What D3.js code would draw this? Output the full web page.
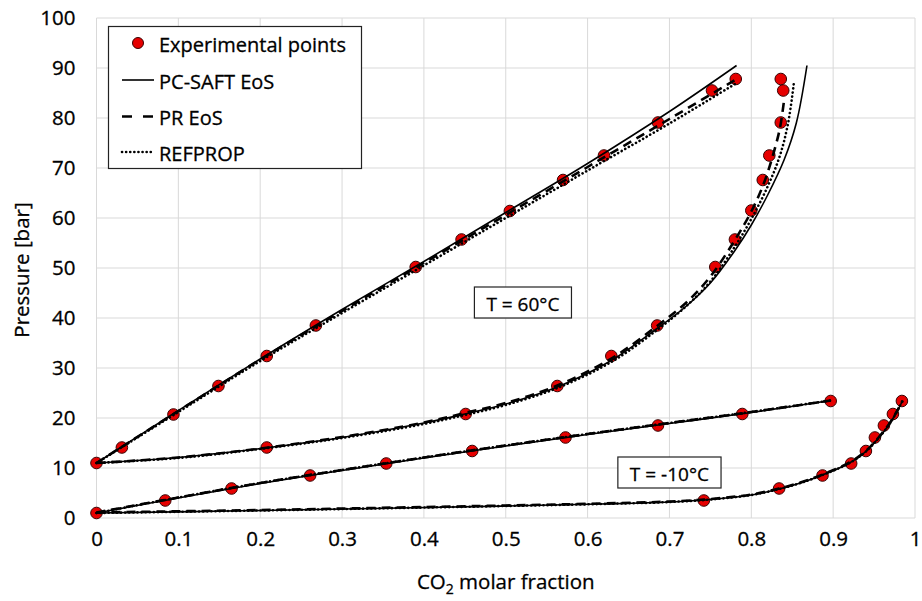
<!DOCTYPE html>
<html>
<head>
<meta charset="utf-8">
<script src="https://cdn.jsdelivr.net/npm/d3@7"></script>
<style>
  html, body { margin: 0; padding: 0; background: #fff; }
  svg { display: block; font-family: "Open Sans", "Noto Sans", sans-serif; }
  svg text { stroke: #000; stroke-width: 0.3px; }
</style>
</head>
<body>
<svg id="chart" width="922" height="601"></svg>
<script>
// ---------- DATA ----------
const xTicks = [0, 0.1, 0.2, 0.3, 0.4, 0.5, 0.6, 0.7, 0.8, 0.9, 1];
const xTickLabels = ["0", "0.1", "0.2", "0.3", "0.4", "0.5", "0.6", "0.7", "0.8", "0.9", "1"];
const yTicks = [0, 10, 20, 30, 40, 50, 60, 70, 80, 90, 100];
const yTickLabels = ["0", "10", "20", "30", "40", "50", "60", "70", "80", "90", "100"];

// Experimental points, T = 60 °C  [x CO2, P bar]
const exp60Bubble = [[0, 11.0], [0.031, 14.1], [0.094, 20.7], [0.149, 26.4], [0.208, 32.4], [0.268, 38.5],
  [0.390, 50.2], [0.446, 55.7], [0.505, 61.4], [0.570, 67.6], [0.620, 72.5], [0.686, 79.1], [0.752, 85.5], [0.781, 87.8]];
const exp60Dew = [[0.208, 14.1], [0.451, 20.8], [0.563, 26.4], [0.629, 32.4], [0.685, 38.5], [0.756, 50.2],
  [0.780, 55.7], [0.800, 61.5], [0.814, 67.6], [0.822, 72.5], [0.836, 79.1], [0.839, 85.5], [0.836, 87.8]];
// Experimental points, T = -10 °C
const expM10Bubble = [[0, 1.0], [0.084, 3.5], [0.165, 5.9], [0.261, 8.5], [0.354, 10.9], [0.459, 13.4],
  [0.573, 16.1], [0.686, 18.5], [0.789, 20.8], [0.897, 23.4]];
const expM10Dew = [[0.742, 3.5], [0.834, 5.9], [0.887, 8.5], [0.922, 10.9], [0.940, 13.4], [0.951, 16.1],
  [0.962, 18.5], [0.973, 20.8], [0.984, 23.4]];

// PC-SAFT EoS (solid)
const pcsaft60Bubble = [[0, 11], [0.1, 21.5], [0.2, 31.8], [0.3, 41.7], [0.4, 51.3], [0.5, 61.1], [0.6, 70.9], [0.7, 81.3], [0.782, 90.5]];
const pcsaft60Dew = [[0, 11], [0.1, 12.1], [0.2, 13.9], [0.3, 16.1], [0.4, 19.0], [0.45, 20.8], [0.5, 22.8], [0.563, 26.2],
  [0.63, 31.6], [0.684, 37.8], [0.72, 42.3], [0.75, 47.0], [0.78, 53.5], [0.80, 58.6], [0.82, 64.6], [0.84, 71.6], [0.855, 79], [0.868, 90.5]];
const pcsaftM10Bubble = [[0, 1.0], [0.1, 4.0], [0.2, 6.9], [0.3, 9.5], [0.4, 12.0], [0.5, 14.4], [0.6, 16.7], [0.7, 18.9], [0.8, 21.1], [0.897, 23.5]];
const pcsaftM10Dew = [[0, 1.0], [0.2, 1.5], [0.37, 2.0], [0.5, 2.4], [0.615, 2.8], [0.7, 3.2], [0.75, 3.7], [0.8, 4.6], [0.834, 5.8],
  [0.86, 7.0], [0.887, 8.6], [0.92, 11.0], [0.94, 13.3], [0.955, 15.9], [0.968, 18.6], [0.977, 21.0], [0.985, 23.5]];

// PR EoS (dashed)
const pr60Bubble = [[0, 11], [0.1, 21.4], [0.2, 31.7], [0.3, 41.4], [0.4, 51.0], [0.5, 60.6], [0.6, 70.2], [0.7, 79.8], [0.78, 87.6]];
const pr60Dew = [[0, 11], [0.1, 12.1], [0.2, 13.9], [0.3, 16.2], [0.4, 19.1], [0.45, 21.0], [0.5, 23.0], [0.563, 26.5],
  [0.63, 32.0], [0.684, 38.3], [0.72, 43.0], [0.75, 48.3], [0.78, 55.6], [0.80, 61.3], [0.815, 66.8], [0.826, 72.3], [0.835, 78.0], [0.84, 83.5]];
const prM10Bubble = [[0, 1.1], [0.1, 4.1], [0.2, 7.0], [0.3, 9.6], [0.4, 12.1], [0.5, 14.5], [0.6, 16.8], [0.7, 19.0], [0.8, 21.2], [0.897, 23.5]];
const prM10Dew = [[0, 1.1], [0.2, 1.6], [0.37, 2.1], [0.5, 2.5], [0.615, 2.9], [0.7, 3.3], [0.75, 3.8], [0.8, 4.7], [0.834, 5.9],
  [0.86, 7.1], [0.887, 8.7], [0.92, 11.1], [0.94, 13.4], [0.955, 16.0], [0.968, 18.7], [0.977, 21.1], [0.985, 23.5]];

// REFPROP (dotted)
const ref60Bubble = [[0, 11], [0.1, 21.2], [0.2, 31.4], [0.3, 41.0], [0.4, 50.5], [0.5, 60.0], [0.6, 69.5], [0.7, 78.9], [0.781, 86.9]];
const ref60Dew = [[0, 11], [0.1, 12.0], [0.2, 13.8], [0.3, 16.0], [0.4, 18.8], [0.45, 20.6], [0.5, 22.6], [0.563, 26.0],
  [0.63, 31.3], [0.684, 37.5], [0.72, 42.3], [0.75, 47.3], [0.78, 54.3], [0.80, 59.8], [0.82, 66.3], [0.835, 72.5], [0.845, 79.0], [0.852, 87.0]];
const refM10Bubble = [[0, 1.0], [0.1, 4.1], [0.2, 7.0], [0.3, 9.6], [0.4, 12.1], [0.5, 14.5], [0.6, 16.8], [0.7, 19.0], [0.8, 21.2], [0.897, 23.5]];
const refM10Dew = [[0, 1.0], [0.2, 1.5], [0.37, 2.0], [0.5, 2.4], [0.615, 2.8], [0.7, 3.2], [0.75, 3.7], [0.8, 4.6], [0.834, 5.8],
  [0.86, 7.0], [0.887, 8.6], [0.92, 11.0], [0.94, 13.3], [0.955, 15.9], [0.968, 18.6], [0.977, 21.0], [0.985, 23.5]];

const legendLabels = ["Experimental points", "PC-SAFT EoS", "PR EoS", "REFPROP"];
const annotations = [{ text: "T = 60°C", x: 0.521, y: 43.1 }, { text: "T = -10°C", x: 0.700, y: 9.1 }];

// ---------- CHART ----------
const FS = 20.5;
const svg = d3.select("#chart");
const margin = { left: 96.5, right: 7, top: 18, bottom: 83 };
const W = 922, H = 601;
const x = d3.scaleLinear().domain([0, 1]).range([margin.left, W - margin.right]);
const y = d3.scaleLinear().domain([0, 100]).range([H - margin.bottom, margin.top]);

// gridlines
const grid = svg.append("g");
grid.selectAll("line.v").data(xTicks).join("line")
  .attr("x1", d => x(d)).attr("x2", d => x(d))
  .attr("y1", y(0)).attr("y2", y(100))
  .attr("stroke", "#d9d9d9").attr("stroke-width", 1);
grid.selectAll("line.h").data(yTicks).join("line")
  .attr("x1", x(0)).attr("x2", x(1))
  .attr("y1", d => y(d)).attr("y2", d => y(d))
  .attr("stroke", "#d9d9d9").attr("stroke-width", 1);

// axes (labels only)
const xAxis = d3.axisBottom(x).tickValues(xTicks).tickFormat((d, i) => xTickLabels[i]).tickSize(0).tickPadding(13);
const gx = svg.append("g").attr("transform", `translate(0,${y(0)})`).call(xAxis);
gx.select(".domain").remove();
gx.selectAll("text").attr("font-size", FS).attr("fill", "#000").attr("font-family", "Open Sans");

const yAxis = d3.axisLeft(y).tickValues(yTicks).tickFormat((d, i) => yTickLabels[i]).tickSize(0).tickPadding(21);
const gy = svg.append("g").attr("transform", `translate(${x(0)},0)`).call(yAxis);
gy.select(".domain").remove();
gy.selectAll("text").attr("font-size", FS).attr("fill", "#000").attr("font-family", "Open Sans");

// axis titles
svg.append("text")
  .attr("transform", `translate(29,${(y(0) + y(100)) / 2 + 2}) rotate(-90)`)
  .attr("text-anchor", "middle").attr("font-size", FS).attr("fill", "#000")
  .text("Pressure [bar]");
const xt = svg.append("text").attr("x", (x(0) + x(1)) / 2).attr("y", 589)
  .attr("text-anchor", "middle").attr("font-size", FS).attr("fill", "#000");
xt.append("tspan").text("CO");
xt.append("tspan").attr("font-size", 14).attr("dy", 5).text("2");
xt.append("tspan").attr("dy", -5).text(" molar fraction");

// experimental points (drawn under the model lines)
const allExp = [].concat(exp60Bubble, exp60Dew, expM10Bubble, expM10Dew);
svg.append("g").selectAll("circle").data(allExp).join("circle")
  .attr("cx", d => x(d[0])).attr("cy", d => y(d[1])).attr("r", 5.8)
  .attr("fill", "#e60000").attr("stroke", "#3a0000").attr("stroke-width", 1);

// model lines
const line = d3.line().x(d => x(d[0])).y(d => y(d[1])).curve(d3.curveCatmullRom.alpha(0.5));
const styles = {
  solid: { w: 1.6, dash: null, cap: "butt" },
  dashed: { w: 2.6, dash: "9,6", cap: "butt" },
  dotted: { w: 2.6, dash: "0.1,4", cap: "round" }
};
const series = [
  { data: ref60Bubble, s: "dotted" }, { data: ref60Dew, s: "dotted" }, { data: refM10Bubble, s: "dotted" }, { data: refM10Dew, s: "dotted" },
  { data: pr60Bubble, s: "dashed" }, { data: pr60Dew, s: "dashed" }, { data: prM10Bubble, s: "dashed" }, { data: prM10Dew, s: "dashed" },
  { data: pcsaft60Bubble, s: "solid" }, { data: pcsaft60Dew, s: "solid" }, { data: pcsaftM10Bubble, s: "solid" }, { data: pcsaftM10Dew, s: "solid" }
];
svg.append("g").selectAll("path").data(series).join("path")
  .attr("d", d => line(d.data))
  .attr("fill", "none").attr("stroke", "#000")
  .attr("stroke-width", d => styles[d.s].w)
  .attr("stroke-dasharray", d => styles[d.s].dash)
  .attr("stroke-linecap", d => styles[d.s].cap);

// annotation boxes
annotations.forEach(a => {
  const g = svg.append("g");
  const cx = x(a.x), cy = y(a.y);
  const t = g.append("text").attr("x", cx).attr("y", cy + 1)
    .attr("text-anchor", "middle").attr("dominant-baseline", "central")
    .attr("font-size", 19).attr("fill", "#000").text(a.text);
  const bw = t.node().getBBox().width + 24;
  g.insert("rect", "text")
    .attr("x", cx - bw / 2).attr("y", cy - 15.5).attr("width", bw).attr("height", 31)
    .attr("fill", "#fff").attr("stroke", "#222").attr("stroke-width", 1.2);
});

// legend
const lg = svg.append("g");
lg.append("rect").attr("x", 108.5).attr("y", 26.5).attr("width", 253).attr("height", 142)
  .attr("fill", "#fff").attr("stroke", "#222").attr("stroke-width", 1.2);
const rowY = [43, 80, 116.5, 152];
legendLabels.forEach((lab, i) => {
  const yy = rowY[i];
  if (i === 0) {
    lg.append("circle").attr("cx", 138).attr("cy", yy).attr("r", 5.5)
      .attr("fill", "#e60000").attr("stroke", "#3a0000").attr("stroke-width", 1);
  } else {
    const st = styles[["solid", "dashed", "dotted"][i - 1]];
    lg.append("line").attr("x1", 122).attr("x2", 154).attr("y1", yy).attr("y2", yy)
      .attr("stroke", "#000").attr("stroke-width", st.w)
      .attr("stroke-dasharray", i === 2 ? "10,11" : st.dash)
      .attr("stroke-linecap", st.cap);
  }
  lg.append("text").attr("x", 159).attr("y", yy + 1).attr("dominant-baseline", "central")
    .attr("font-size", 20).attr("fill", "#000").text(lab);
});
</script>
</body>
</html>
